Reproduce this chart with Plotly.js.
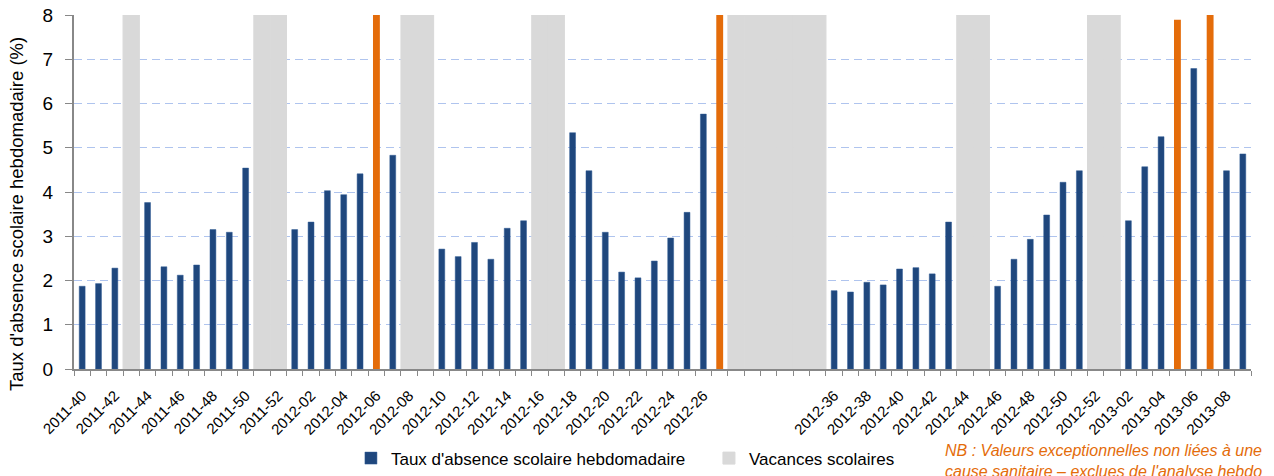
<!DOCTYPE html>
<html>
<head>
<meta charset="utf-8">
<script src="https://cdn.plot.ly/plotly-3.0.1.min.js"></script>
<style>
  body { margin: 0; background: #fff; }
  #chart { width: 1274px; height: 476px; }
</style>
</head>
<body>
<div id="chart"></div>
<script>
// semaines (les 6 semaines d'ete sans libelle sont regroupees)
var weeks = [
  "2011-40", "2011-41", "2011-42", "2011-43", "2011-44", "2011-45", "2011-46",
  "2011-47", "2011-48", "2011-49", "2011-50", "2011-51", "2011-52",
  "2012-01", "2012-02", "2012-03", "2012-04", "2012-05", "2012-06", "2012-07",
  "2012-08", "2012-09", "2012-10", "2012-11", "2012-12", "2012-13", "2012-14",
  "2012-15", "2012-16", "2012-17", "2012-18", "2012-19", "2012-20", "2012-21",
  "2012-22", "2012-23", "2012-24", "2012-25", "2012-26", "2012-27",
  "", "", "", "", "", "",
  "2012-36", "2012-37", "2012-38", "2012-39", "2012-40", "2012-41", "2012-42",
  "2012-43", "2012-44", "2012-45", "2012-46", "2012-47", "2012-48", "2012-49",
  "2012-50", "2012-51", "2012-52",
  "2013-01", "2013-02", "2013-03", "2013-04", "2013-05", "2013-06", "2013-07",
  "2013-08", "2013-09"
];

// taux d'absence scolaire hebdomadaire (%)
var absence = [
  1.87, 1.93, 2.28, null, 3.76, 2.31, 2.12, 2.35, 3.15, 3.09, 4.54, null, null,
  3.15, 3.32, 4.03, 3.94, 4.41, null, 4.83, null, null, 2.71, 2.54, 2.86, 2.48, 3.18, 3.35,
  null, null, 5.34, 4.48, 3.09, 2.19, 2.06, 2.44, 2.96, 3.54, 5.76, null,
  null, null, null, null, null, null,
  1.77, 1.74, 1.96, 1.90, 2.26, 2.29, 2.15, 3.32, null, null, 1.87, 2.48, 2.93, 3.48, 4.22, 4.48, null,
  null, 3.35, 4.57, 5.25, null, 6.79, null, 4.48, 4.86
];

// valeurs exceptionnelles (hors analyse)
var exceptional = [
  null, null, null, null, null, null, null, null, null, null, null, null, null,
  null, null, null, null, null, 8, null, null, null, null, null, null, null, null, null,
  null, null, null, null, null, null, null, null, null, null, null, 8,
  null, null, null, null, null, null,
  null, null, null, null, null, null, null, null, null, null, null, null, null, null, null, null, null,
  null, null, null, null, 7.89, null, 8, null, null
];

// vacances scolaires
var vacances = [
  null, null, null, 8, null, null, null, null, null, null, null, 8, 8,
  null, null, null, null, null, null, null, 8, 8, null, null, null, null, null, null,
  8, 8, null, null, null, null, null, null, null, null, null, null,
  8, 8, 8, 8, 8, 8,
  null, null, null, null, null, null, null, null, 8, 8, null, null, null, null, null, null, 8,
  8, null, null, null, null, null, null, null, null
];

var xs = weeks.map(function (w, i) { return i; });

var tickVals = [];
var tickText = [];
for (var i = 0; i < weeks.length; i += 2) {
  tickVals.push(i);
  tickText.push(weeks[i]);
}

var traces = [
  {
    x: xs, y: vacances, type: 'bar', name: 'Vacances scolaires',
    width: 1, marker: { color: '#D9D9D9', line: { color: '#D9D9D9', width: 1 } },
    legendrank: 2, hoverinfo: 'skip'
  },
  {
    x: xs, y: absence, type: 'bar', name: "Taux d'absence scolaire hebdomadaire",
    width: 0.36, marker: { color: '#1F477D', line: { color: '#2E5A94', width: 0.5 } }, legendrank: 1
  },
  {
    x: xs, y: exceptional, type: 'bar', name: 'Valeurs exceptionnelles',
    width: 0.42, marker: { color: '#E46C0A' }, showlegend: false
  }
];

var layout = {
  width: 1274,
  height: 476,
  margin: { l: 74, r: 23, t: 15, b: 107, autoexpand: false },
  paper_bgcolor: '#fff',
  plot_bgcolor: '#fff',
  barmode: 'overlay',
  font: { family: 'Liberation Sans, Arial, sans-serif', color: '#000' },
  xaxis: {
    range: [-0.5, weeks.length - 0.5],
    automargin: false,
    tickmode: 'array',
    tickvals: tickVals,
    ticktext: tickText,
    tickangle: -45,
    ticks: '',
    ticklabelstandoff: 10,
    tickfont: { size: 15, color: '#000' },
    showline: true, linecolor: '#888', linewidth: 2,
    showgrid: false, zeroline: false,
    minor: { ticks: 'outside', ticklen: 5, tickcolor: '#888', tickwidth: 1, tickmode: 'linear', tick0: -0.5, dtick: 1 }
  },
  yaxis: {
    range: [0, 8],
    automargin: false,
    dtick: 1,
    ticks: 'outside', ticklen: 7, tickcolor: '#888', tickwidth: 1,
    tickfont: { size: 19, color: '#000' },
    ticklabelstandoff: 8,
    showline: true, linecolor: '#888', linewidth: 2,
    showgrid: true, gridcolor: '#AFC4EE', gridwidth: 1, griddash: '8px,5px',
    zeroline: false
  },
  legend: {
    orientation: 'h',
    x: 0.2353, xanchor: 'left',
    y: -0.253, yanchor: 'middle',
    entrywidth: 313, entrywidthmode: 'pixels',
    font: { size: 17, color: '#000' },
    traceorder: 'normal'
  },
  annotations: [
    {
      text: "Taux d'absence scolaire hebdomadaire (%)",
      xref: 'paper', yref: 'paper', x: -0.0484, y: 0.438,
      xanchor: 'center', yanchor: 'middle', textangle: -90,
      showarrow: false, font: { size: 18.5, color: '#000' }
    },
    {
      text: "<i>NB : Valeurs exceptionnelles non liées à une<br>cause sanitaire – exclues de l'analyse hebdo</i>",
      xref: 'paper', yref: 'paper', x: 0.738, y: -0.2, align: 'left',
      xanchor: 'left', yanchor: 'top',
      showarrow: false, font: { size: 16, color: '#E46C0A' }
    }
  ]
};

Plotly.newPlot('chart', traces, layout, { displayModeBar: false, staticPlot: true });
</script>
</body>
</html>
